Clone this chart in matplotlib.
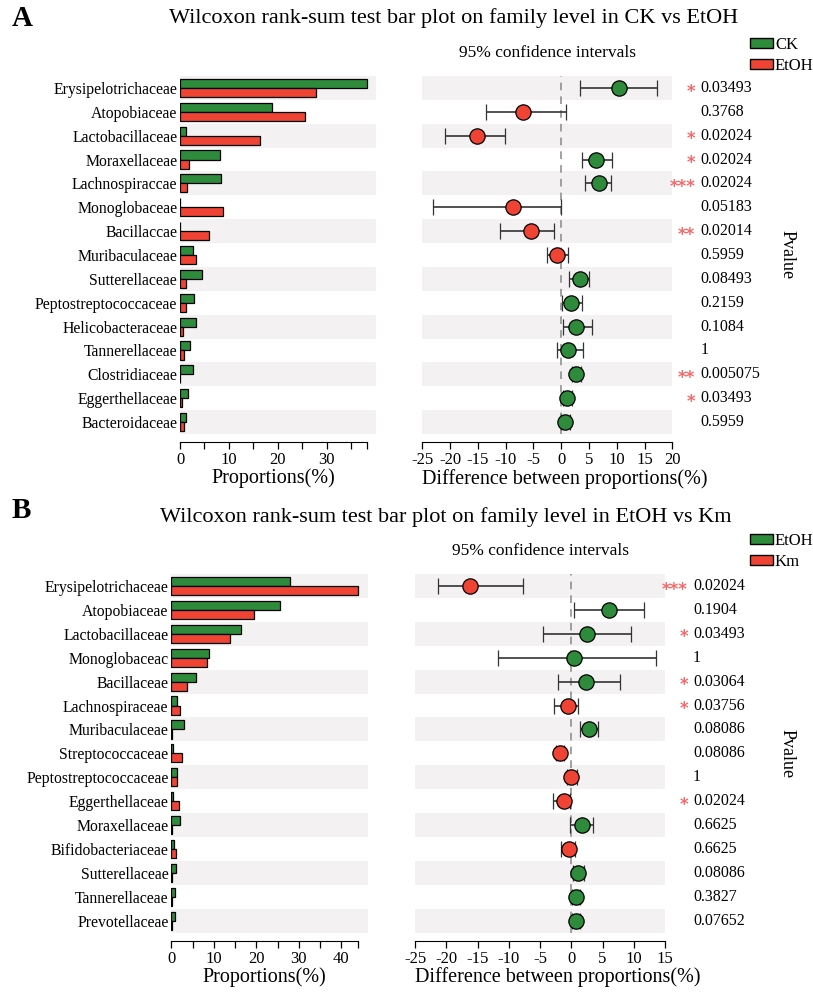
import numpy as np
import matplotlib.pyplot as plt
from matplotlib.patches import Patch

plt.rcParams['font.family'] = ['Liberation Serif', 'DejaVu Serif']

GREEN = '#2e8b3b'
RED = '#ef4434'
STRIPE = '#f3f1f1'
STAR = '#f26a6a'

# ---- panel A: CK vs EtOH ----
famA = ['Erysipelotrichaceae', 'Atopobiaceae', 'Lactobacillaceae', 'Moraxellaceae',
        'Lachnospiraccae', 'Monoglobaceae', 'Bacillaccae', 'Muribaculaceae',
        'Sutterellaceae', 'Peptostreptococcaceae', 'Helicobacteraceae', 'Tannerellaceae',
        'Clostridiaceae', 'Eggerthellaceae', 'Bacteroidaceae']
ckA = [38.2, 18.8, 1.15, 8.1, 8.3, 0.1, 0.1, 2.6, 4.4, 2.9, 3.3, 2.0, 2.7, 1.6, 1.3]
etohA = [27.8, 25.5, 16.3, 1.9, 1.5, 8.8, 5.9, 3.3, 1.2, 1.2, 0.7, 0.9, 0.05, 0.5, 0.9]
diffA = [10.4, -6.8, -15.2, 6.3, 6.8, -8.6, -5.5, -0.7, 3.4, 1.8, 2.7, 1.3, 2.6, 1.1, 0.6]
lowA = [3.4, -13.6, -20.9, 3.8, 4.3, -23.1, -11.1, -2.6, 1.4, 0.06, 0.4, -0.7, 1.9, 0.4, 0.0]
highA = [17.3, 0.8, -10.2, 9.2, 8.9, 0.0, -1.3, 1.3, 5.0, 3.7, 5.5, 4.0, 3.5, 1.9, 1.5]
pA = ['0.03493', '0.3768', '0.02024', '0.02024', '0.02024', '0.05183', '0.02014', '0.5959',
      '0.08493', '0.2159', '0.1084', '1', '0.005075', '0.03493', '0.5959']
starsA = ['*', '', '*', '*', '***', '', '**', '', '', '', '', '', '**', '*', '']

# ---- panel B: EtOH vs Km ----
famB = ['Erysipelotrichaceae', 'Atopobiaceae', 'Lactobacillaceae', 'Monoglobaceac',
        'Bacillaceae', 'Lachnospiraceae', 'Muribaculaceae', 'Streptococcaceae',
        'Peptostreptococcaceae', 'Eggerthellaceae', 'Moraxellaceae', 'Bifidobacteriaceae',
        'Sutterellaceae', 'Tannerellaceae', 'Prevotellaceae']
etohB = [27.9, 25.6, 16.4, 8.8, 5.9, 1.4, 3.1, 0.3, 1.25, 0.3, 2.0, 0.7, 1.2, 0.9, 0.8]
kmB = [44.0, 19.4, 13.9, 8.4, 3.6, 2.1, 0.1, 2.4, 1.3, 1.8, 0.05, 1.0, 0.05, 0.05, 0.05]
diffB = [-16.2, 6.0, 2.5, 0.5, 2.3, -0.6, 2.8, -1.8, -0.05, -1.2, 1.7, -0.3, 1.1, 0.75, 0.7]
lowB = [-21.4, 0.4, -4.6, -11.7, -2.2, -2.8, 1.4, -2.5, -0.75, -3.0, -0.2, -1.7, 0.3, 0.1, 0.05]
highB = [-7.7, 11.6, 9.5, 13.6, 7.8, 1.1, 4.2, -1.1, 0.85, -0.2, 3.4, 0.6, 2.0, 1.4, 1.4]
pB = ['0.02024', '0.1904', '0.03493', '1', '0.03064', '0.03756', '0.08086', '0.08086', '1',
      '0.02024', '0.6625', '0.6625', '0.08086', '0.3827', '0.07652']
starsB = ['***', '', '*', '', '*', '*', '', '', '', '*', '', '', '', '', '']

W, H = 813, 992
fig = plt.figure(figsize=(W / 100, H / 100), dpi=100)


def box(x0, y0, x1, y1):
    # pixel box -> figure fraction
    return [x0 / W, 1 - y1 / H, (x1 - x0) / W, (y1 - y0) / H]


def draw_panel(letter, ly, title, tx, ty, cats, g1, g2, diff, lo, hi, pv, stars, names,
               lbox, rbox, rlim, rticks, leg_y):
    n = len(cats)
    y = np.arange(n)
    fig.text(12 / W, 1 - ly / H, letter, fontsize=21, fontweight='bold', va='center')
    fig.text(tx / W, 1 - ty / H, title, fontsize=16, ha='center', va='center')

    # left: proportions
    ax = fig.add_axes(box(*lbox))
    top = max(max(g1), max(g2))
    for i in range(0, n, 2):
        ax.axhspan(i - 0.5, i + 0.5, color=STRIPE, lw=0, zorder=0)
    ax.barh(y - 0.19, g1, height=0.38, color=GREEN, edgecolor='black', lw=0.9, zorder=2)
    ax.barh(y + 0.19, g2, height=0.38, color=RED, edgecolor='black', lw=0.9, zorder=2)
    ax.set_ylim(n - 0.5, -0.5)
    ax.set_xlim(0, top * 1.05)
    ax.set_yticks(y)
    ax.set_yticklabels(cats)
    ax.tick_params(axis='y', length=0, pad=2, labelsize=11.3)
    ticks = list(np.arange(0, top, 5)) + [top]
    ax.set_xticks(ticks)
    ax.set_xticklabels([str(int(t)) if (t % 10 == 0) else '' for t in ticks])
    ax.tick_params(axis='x', direction='out', length=5, width=0.9, labelsize=12, pad=2)
    for s in ['top', 'right', 'left']:
        ax.spines[s].set_visible(False)
    ax.spines['bottom'].set_position(('outward', 6))
    ax.spines['bottom'].set_bounds(0, top)
    ax.set_xlabel('Proportions(%)', fontsize=14.5)
    ax.xaxis.set_label_coords(0.476, -0.097)

    # right: difference with 95% CI
    ax2 = fig.add_axes(box(*rbox))
    for i in range(0, n, 2):
        ax2.axhspan(i - 0.5, i + 0.5, color=STRIPE, lw=0, zorder=0)
    ax2.axvline(0, color='#888888', ls=(0, (5, 4)), lw=1.1, zorder=1)
    for i in range(n):
        c = GREEN if diff[i] > 0 else RED
        ax2.errorbar(diff[i], i, xerr=[[diff[i] - lo[i]], [hi[i] - diff[i]]], fmt='o',
                     color='#333333', ecolor='#333333', elinewidth=1.2, capsize=6,
                     capthick=1.2, markerfacecolor=c, markeredgecolor='black',
                     markersize=11, markeredgewidth=0.9, zorder=3)
        ax2.text(1.112, i, pv[i], transform=ax2.get_yaxis_transform(), fontsize=11.5,
                 va='center', ha='left')
        if stars[i]:
            ax2.text(1.092, i + 0.15, stars[i], transform=ax2.get_yaxis_transform(),
                     fontsize=12, fontweight='bold', va='center', ha='right', color=STAR,
                     family='DejaVu Sans')
    ax2.set_ylim(n - 0.5, -0.5)
    ax2.set_xlim(*rlim)
    ax2.set_xticks(rticks)
    ax2.set_xticklabels([str(t) for t in rticks])
    ax2.set_yticks([])
    ax2.tick_params(axis='x', direction='out', length=5, width=0.9, labelsize=12, pad=2)
    for s in ['top', 'right', 'left']:
        ax2.spines[s].set_visible(False)
    ax2.spines['bottom'].set_position(('outward', 6))
    ax2.set_xlabel('Difference between proportions(%)', fontsize=14.5, loc='left')
    ax2.xaxis.set_label_coords(0, -0.097)
    ax2.set_title('95% confidence intervals', fontsize=12.5, pad=14)
    fig.text(787 / W, 1 - (lbox[1] + lbox[3]) / 2 / H, 'Pvalue', rotation=-90,
             fontsize=13, va='center', ha='center')

    handles = [Patch(facecolor=GREEN, edgecolor='black', label=names[0]),
               Patch(facecolor=RED, edgecolor='black', label=names[1])]
    fig.legend(handles=handles, loc='upper left', bbox_to_anchor=(750 / W, 1 - leg_y / H),
               frameon=False, fontsize=12, handlelength=1.4, handleheight=0.55,
               handletextpad=0.1, labelspacing=0.3, borderaxespad=0, borderpad=0)


draw_panel('A', 18, 'Wilcoxon rank-sum test bar plot on family level in CK vs EtOH', 454, 18,
           famA, ckA, etohA, diffA, lowA, highA, pA, starsA, ['CK', 'EtOH'],
           (180, 76, 376, 434), (422.3, 76, 672.3, 434), (-25, 20), list(range(-25, 21, 5)), 37)
draw_panel('B', 510, 'Wilcoxon rank-sum test bar plot on family level in EtOH vs Km', 446, 517,
           famB, etohB, kmB, diffB, lowB, highB, pB, starsB, ['EtOH', 'Km'],
           (171.3, 574, 367.7, 932.7), (415, 574, 665, 932.7), (-25, 15), list(range(-25, 16, 5)), 533)

fig.savefig('out.png', dpi=100)
